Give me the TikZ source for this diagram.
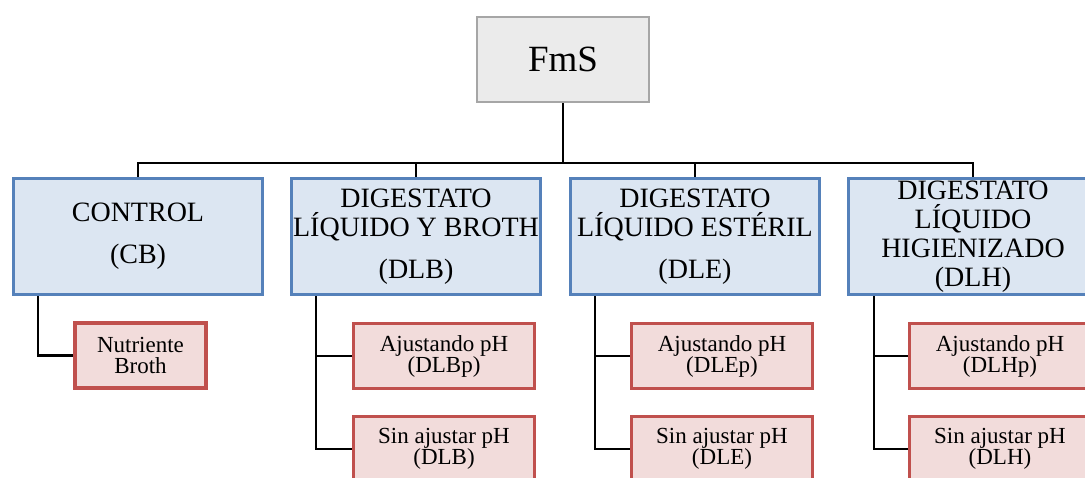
\documentclass[tikz,border=0pt]{standalone}
\usepackage{fontspec}
\setmainfont{Liberation Serif}
\definecolor{bluefill}{HTML}{DCE6F2}
\definecolor{blueline}{HTML}{5581BA}
\definecolor{redfill}{HTML}{F2DCDB}
\definecolor{redline}{HTML}{C0504D}
\definecolor{grayfill}{HTML}{EBEBEB}
\definecolor{grayline}{HTML}{A6A6A6}
\tikzset{
  topbox/.style={draw=grayline, fill=grayfill, line width=2.4pt, minimum width=172pt, minimum height=85pt, inner sep=0pt, font=\fontsize{37}{40}\selectfont},
  catbox/.style={draw=blueline, fill=bluefill, line width=3.2pt, minimum width=249pt, minimum height=116pt, inner sep=0pt, align=center, font=\fontsize{28}{29}\selectfont},
  subbox/.style={draw=redline, fill=redfill, line width=3.2pt, minimum width=181pt, minimum height=65pt, inner sep=0pt, align=center, font=\fontsize{23}{21}\selectfont},
  link/.style={draw=black, line width=2.8pt},
}
\begin{document}
\begin{tikzpicture}[x=1pt,y=-1pt]
\useasboundingbox (0,0) rectangle (1085,477);
\clip (0,0) rectangle (1085,477);
\fill[white] (0,0) rectangle (1085,477);
% nodes
\node[topbox] (fms) at (563,59.5) {FmS};
\coordinate (bus) at (563,163);
\node[catbox] (cb)  at (138,236.5) {CONTROL\\[13pt](CB)};
\node[catbox] (dlb) at (416,236.5) {DIGESTATO\\LÍQUIDO Y BROTH\\[13pt](DLB)};
\node[catbox] (dle) at (695,236.5) {DIGESTATO\\LÍQUIDO ESTÉRIL\\[13pt](DLE)};
\node[catbox] (dlh) at (973,236.5) {DIGESTATO\\LÍQUIDO\\HIGIENIZADO\\(DLH)};
\node[subbox, minimum width=131pt] (nb) at (140.5,355.5) {Nutriente\\Broth};
\node[subbox] (dlbp) at (444,356) {Ajustando pH\\(DLBp)};
\node[subbox] (dlbs) at (444,449) {Sin ajustar pH\\(DLB)};
\node[subbox] (dlep) at (722,356) {Ajustando pH\\(DLEp)};
\node[subbox] (dles) at (722,449) {Sin ajustar pH\\(DLE)};
\node[subbox] (dlhp) at (1000,356) {Ajustando pH\\(DLHp)};
\node[subbox] (dlhs) at (1000,449) {Sin ajustar pH\\(DLH)};
% trunks
\coordinate (cbt)  at ([xshift=26pt]cb.south west);
\coordinate (dlbt) at ([xshift=26pt]dlb.south west);
\coordinate (dlet) at ([xshift=26pt]dle.south west);
\coordinate (dlht) at ([xshift=27pt]dlh.south west);
% connectors
\draw[link] (fms.south) -- (bus);
\draw[link] (cb.north) |- (bus) -| (dlh.north);
\draw[link] (dlb.north) -- (dlb.north |- bus);
\draw[link] (dle.north) -- (dle.north |- bus);
\draw[link] (cbt) |- (nb.west);
\draw[link] (dlbt) |- (dlbs.west);
\draw[link] (dlbp.west) -- (dlbp.west -| dlbt);
\draw[link] (dlet) |- (dles.west);
\draw[link] (dlep.west) -- (dlep.west -| dlet);
\draw[link] (dlht) |- (dlhs.west);
\draw[link] (dlhp.west) -- (dlhp.west -| dlht);
\end{tikzpicture}
\end{document}
